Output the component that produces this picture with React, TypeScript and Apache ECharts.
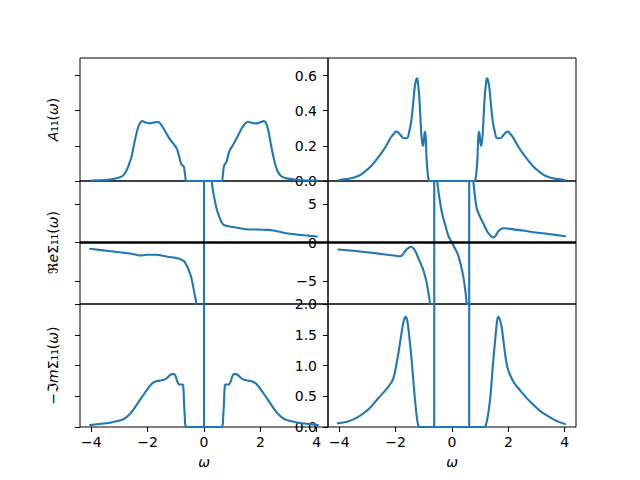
import React, { useEffect, useRef } from "react";
import * as echarts from "echarts";

// ---------- data ----------
const xTicks = [-4, -2, 0, 2, 4];
const yTicksA = [0, 0.2, 0.4, 0.6];
const yTicksRe = [-5, 0, 5];
const yTicksIm = [0, 0.5, 1.0, 1.5, 2.0];

// Left column: A11(ω)
const aLeft: [number, number][] = [
  [-4.0, 0.003], [-3.5, 0.006], [-3.2, 0.012], [-2.98, 0.021], [-2.85, 0.035], [-2.74, 0.063],
  [-2.65, 0.1], [-2.57, 0.139], [-2.45, 0.233], [-2.33, 0.309], [-2.25, 0.335], [-2.19, 0.341],
  [-2.1, 0.334], [-1.92, 0.328], [-1.75, 0.334], [-1.62, 0.336], [-1.52, 0.32], [-1.44, 0.3],
  [-1.33, 0.27], [-1.23, 0.243], [-1.1, 0.215], [-0.97, 0.186], [-0.9, 0.15], [-0.85, 0.12],
  [-0.79, 0.091], [-0.73, 0.086], [-0.7, 0.07], [-0.66, 0.02], [-0.63, 0.0],
  [0.63, 0.0], [0.66, 0.02], [0.71, 0.085], [0.8, 0.11], [0.86, 0.15], [0.92, 0.176],
  [1.05, 0.21], [1.16, 0.243], [1.34, 0.3], [1.45, 0.325], [1.57, 0.337], [1.72, 0.33],
  [1.87, 0.328], [2.0, 0.335], [2.13, 0.341], [2.2, 0.33], [2.28, 0.29], [2.35, 0.23],
  [2.4, 0.186], [2.46, 0.14], [2.52, 0.1], [2.6, 0.06], [2.7, 0.034], [2.8, 0.022],
  [2.93, 0.015], [3.35, 0.006], [4.0, 0.003],
];

// Right column: A11(ω)
const aRight: [number, number][] = [
  [-4.0, 0.005], [-3.7, 0.012], [-3.45, 0.021], [-3.25, 0.035], [-3.1, 0.053], [-2.9, 0.08],
  [-2.74, 0.11], [-2.55, 0.148], [-2.39, 0.186], [-2.25, 0.225], [-2.15, 0.252], [-2.05, 0.272],
  [-1.98, 0.281], [-1.9, 0.275], [-1.8, 0.256], [-1.7, 0.243], [-1.6, 0.243], [-1.52, 0.28],
  [-1.44, 0.347], [-1.38, 0.44], [-1.32, 0.537], [-1.27, 0.578], [-1.24, 0.584], [-1.21, 0.56],
  [-1.17, 0.5], [-1.13, 0.39], [-1.09, 0.27], [-1.05, 0.21], [-1.03, 0.2], [-1.0, 0.23],
  [-0.97, 0.275], [-0.95, 0.28], [-0.92, 0.2], [-0.9, 0.12], [-0.86, 0.04], [-0.83, 0.01],
  [-0.8, 0.0],
  [0.8, 0.0], [0.83, 0.01], [0.86, 0.04], [0.9, 0.12], [0.92, 0.2], [0.95, 0.28], [0.97, 0.275],
  [1.0, 0.23], [1.03, 0.2], [1.05, 0.21], [1.09, 0.27], [1.13, 0.39], [1.17, 0.5], [1.21, 0.56],
  [1.24, 0.584], [1.27, 0.578], [1.32, 0.537], [1.38, 0.44], [1.44, 0.347], [1.52, 0.28],
  [1.6, 0.243], [1.7, 0.243], [1.8, 0.256], [1.9, 0.275], [1.98, 0.281], [2.05, 0.272],
  [2.15, 0.252], [2.25, 0.225], [2.39, 0.186], [2.55, 0.148], [2.74, 0.11], [2.9, 0.08],
  [3.1, 0.053], [3.25, 0.035], [3.45, 0.021], [3.7, 0.012], [4.0, 0.005],
];

// Left column: Re Σ11(ω), branches either side of the pole at ω = 0
const reLeftA: [number, number][] = [
  [-4.04, -0.82], [-3.45, -1.08], [-2.86, -1.34], [-2.5, -1.52], [-2.27, -1.69], [-2.15, -1.66],
  [-2.03, -1.6], [-1.68, -1.6], [-1.5, -1.7], [-1.33, -1.82], [-1.15, -1.92], [-0.97, -2.03],
  [-0.8, -2.25], [-0.7, -2.47], [-0.63, -2.9], [-0.56, -3.42], [-0.5, -4.0], [-0.44, -4.72],
  [-0.36, -6.23], [-0.26, -8.18], [-0.18, -11.5], [-0.1, -21], [-0.04, -52],
];
const reLeftB: [number, number][] = [
  [0.04, 52], [0.1, 21], [0.18, 11.5], [0.27, 8.0], [0.33, 6.5], [0.45, 4.37], [0.57, 3.07],
  [0.66, 2.42], [0.75, 2.2], [0.92, 2.08], [1.28, 1.86], [1.6, 1.7], [1.87, 1.69], [2.1, 1.66],
  [2.46, 1.56], [3.05, 1.13], [3.64, 0.91], [4.0, 0.78],
];
const poleLeft = [0];

// Right column: Re Σ11(ω), three branches between the poles
const reRightA: [number, number][] = [
  [-4.03, -0.91], [-3.5, -1.08], [-3.03, -1.26], [-2.44, -1.52], [-2.0, -1.72], [-1.85, -1.78],
  [-1.78, -1.7], [-1.73, -1.47], [-1.67, -1.17], [-1.61, -0.91], [-1.53, -0.68], [-1.46, -0.56],
  [-1.4, -0.66], [-1.31, -1.04], [-1.2, -2.0], [-1.08, -3.0], [-1.0, -3.8], [-0.9, -5.2],
  [-0.84, -6.5], [-0.78, -7.9], [-0.72, -11], [-0.68, -17], [-0.65, -40],
];
const reRightB: [number, number][] = [
  [-0.61, 40], [-0.57, 15], [-0.52, 8], [-0.47, 6.4], [-0.425, 5.3], [-0.37, 4.1], [-0.31, 3.16],
  [-0.22, 2.0], [-0.13, 0.9], [-0.05, 0.3], [0.0, 0.0], [0.05, -0.4], [0.13, -0.95], [0.225, -1.7],
  [0.31, -2.9], [0.4, -4.4], [0.47, -6.2], [0.52, -8], [0.56, -14], [0.59, -40],
];
const reRightC: [number, number][] = [
  [0.64, 40], [0.68, 17], [0.72, 11], [0.757, 8], [0.81, 6.2], [0.876, 4.46], [1.0, 3.3],
  [1.11, 2.5], [1.2, 1.8], [1.29, 1.21], [1.38, 0.85], [1.47, 0.65], [1.55, 0.9], [1.64, 1.43],
  [1.73, 1.75], [1.82, 1.86], [2.0, 1.8], [2.5, 1.55], [2.89, 1.34], [3.5, 1.07], [4.01, 0.82],
];
const polesRight = [-0.63, 0.61];

// Left column: -Im Σ11(ω)
const imLeft: [number, number][] = [
  [-4.04, 0.03], [-3.7, 0.05], [-3.34, 0.07], [-3.1, 0.095], [-2.86, 0.125], [-2.7, 0.18],
  [-2.51, 0.28], [-2.33, 0.4], [-2.15, 0.52], [-2.0, 0.62], [-1.86, 0.7], [-1.74, 0.735],
  [-1.62, 0.75], [-1.5, 0.76], [-1.38, 0.775], [-1.3, 0.8], [-1.21, 0.845], [-1.12, 0.86],
  [-1.06, 0.86], [-1.0, 0.82], [-0.95, 0.74], [-0.9, 0.7], [-0.85, 0.69], [-0.76, 0.69],
  [-0.73, 0.62], [-0.71, 0.41], [-0.68, 0.15], [-0.66, 0.03], [-0.62, 0.0],
  [0.62, 0.0], [0.66, 0.03], [0.68, 0.15], [0.71, 0.41], [0.73, 0.62], [0.76, 0.69], [0.85, 0.69],
  [0.9, 0.7], [0.95, 0.74], [1.0, 0.82], [1.06, 0.86], [1.12, 0.86], [1.21, 0.845], [1.3, 0.8],
  [1.38, 0.775], [1.5, 0.76], [1.62, 0.75], [1.74, 0.735], [1.86, 0.7], [2.0, 0.62], [2.15, 0.52],
  [2.33, 0.4], [2.51, 0.28], [2.7, 0.18], [2.86, 0.125], [3.1, 0.095], [3.34, 0.07], [3.7, 0.05],
  [4.04, 0.03],
];

// Right column: -Im Σ11(ω)
const imRight: [number, number][] = [
  [-4.05, 0.06], [-3.69, 0.09], [-3.34, 0.16], [-2.98, 0.28], [-2.63, 0.46], [-2.27, 0.65],
  [-2.09, 0.78], [-1.98, 1.0], [-1.86, 1.32], [-1.74, 1.67], [-1.68, 1.77], [-1.64, 1.79],
  [-1.6, 1.75], [-1.56, 1.65], [-1.5, 1.4], [-1.44, 1.13], [-1.38, 0.8], [-1.32, 0.48],
  [-1.27, 0.25], [-1.23, 0.1], [-1.19, 0.02], [-1.15, 0.0],
  [1.15, 0.0], [1.19, 0.02], [1.25, 0.12], [1.35, 0.44], [1.44, 0.95], [1.53, 1.41], [1.6, 1.72],
  [1.64, 1.79], [1.69, 1.76], [1.76, 1.63], [1.88, 1.2], [1.96, 0.98], [2.06, 0.85], [2.2, 0.72],
  [2.41, 0.6], [2.65, 0.47], [2.89, 0.36], [3.1, 0.27], [3.36, 0.19], [3.7, 0.1], [4.01, 0.05],
];

// ---------- chart ----------
const BLUE = "#1f77b4";
const FONT = "DejaVu Sans";
const minus = (s: string) => s.replace("-", "\u2212");

const gridRects = [
  { left: 80, top: 58 }, { left: 328, top: 58 },
  { left: 80, top: 181 }, { left: 328, top: 181 },
  { left: 80, top: 304 }, { left: 328, top: 304 },
];

export default function App() {
  const ref = useRef<HTMLDivElement>(null);
  useEffect(() => {
    if (!ref.current) return;
    const chart = echarts.init(ref.current, undefined, { renderer: "svg" });

    const grid = gridRects.map((g) => ({
      ...g, width: 248, height: 123, show: true, borderColor: "#000", borderWidth: 1,
      backgroundColor: "transparent", containLabel: false, outerBoundsMode: "none",
    }));

    const xAxis = gridRects.map((_, i) => {
      const bottom = i >= 4;
      return {
        type: "value", gridIndex: i, min: -4.4, max: 4.4, position: "bottom",
        axisLine: { show: false, onZero: false }, splitLine: { show: false },
        axisTick: { show: bottom, length: 5, customValues: xTicks, lineStyle: { color: "#000", width: 1 } },
        axisLabel: {
          show: bottom, customValues: xTicks, margin: 8, color: "#000", fontSize: 14, fontFamily: FONT,
          formatter: (v: number) => minus(String(v)),
        },
        name: bottom ? "ω" : "", nameLocation: "middle", nameGap: 28,
        nameTextStyle: { color: "#000", fontSize: 14, fontFamily: FONT, fontStyle: "italic" },
      };
    });

    const yConf = [
      { min: 0, max: 0.7, ticks: yTicksA, fmt: (v: number) => v.toFixed(1) },
      { min: -8, max: 8, ticks: yTicksRe, fmt: (v: number) => minus(String(v)) },
      { min: 0, max: 2, ticks: yTicksIm, fmt: (v: number) => v.toFixed(1) },
    ];
    const yNames = [
      "{i|A}₁₁({i|ω})",
      "ℜ{i|e}Σ₁₁({i|ω})",
      "−ℑ{i|m}Σ₁₁({i|ω})",
    ];
    const yAxis = gridRects.map((_, i) => {
      const row = Math.floor(i / 2);
      const right = i % 2 === 1;
      const c = yConf[row];
      return {
        type: "value", gridIndex: i, min: c.min, max: c.max, position: "left",
        axisLine: { show: false, onZero: false }, splitLine: { show: false },
        axisTick: { show: true, length: 5, customValues: c.ticks, lineStyle: { color: "#000", width: 1 } },
        axisLabel: {
          show: right, customValues: c.ticks, margin: 11, color: "#000", fontSize: 14, fontFamily: FONT,
          formatter: c.fmt, showMinLabel: true, showMaxLabel: true, hideOverlap: false,
        },
        name: right ? "" : yNames[row], nameLocation: "middle", nameGap: 20, nameRotate: 90,
        nameTextStyle: {
          color: "#000", fontSize: 14, fontFamily: FONT,
          rich: { i: { fontStyle: "italic", color: "#000", fontSize: 14, fontFamily: FONT } },
        },
      };
    });

    const curve = (idx: number, data: [number, number][], smooth = true) => ({
      type: "line", xAxisIndex: idx, yAxisIndex: idx, data, showSymbol: false, symbol: "none",
      smooth: smooth ? 0.4 : false, clip: true, silent: true, z: 2,
      lineStyle: { color: BLUE, width: 2.1, cap: "round", join: "round" },
    });
    const vline = (idx: number, x: number, lo: number) =>
      curve(idx, [[x, lo], [x, 1000]], false);
    const zeroLine = (idx: number) => ({
      type: "line", xAxisIndex: idx, yAxisIndex: idx, data: [[-4.4, 0], [4.4, 0]],
      showSymbol: false, symbol: "none", silent: true, z: 3, clip: true,
      lineStyle: { color: "#000", width: 2.5 },
    });

    const series: any[] = [
      curve(0, aLeft),
      curve(1, aRight),
      curve(2, reLeftA), curve(2, reLeftB),
      ...poleLeft.map((p) => vline(2, p, -1000)),
      zeroLine(2),
      curve(3, reRightA), curve(3, reRightB), curve(3, reRightC),
      ...polesRight.map((p) => vline(3, p, -1000)),
      zeroLine(3),
      curve(4, imLeft),
      ...poleLeft.map((p) => vline(4, p, 0)),
      curve(5, imRight),
      ...polesRight.map((p) => vline(5, p, 0)),
    ];

    chart.setOption({
      animation: false,
      backgroundColor: "#fff",
      textStyle: { fontFamily: FONT },
      grid, xAxis, yAxis, series,
    } as any);
    return () => chart.dispose();
  }, []);
  return (
    <div
      ref={ref}
      style={{ position: "absolute", left: 0, top: 0, width: 640, height: 480 }}
    />
  );
}
